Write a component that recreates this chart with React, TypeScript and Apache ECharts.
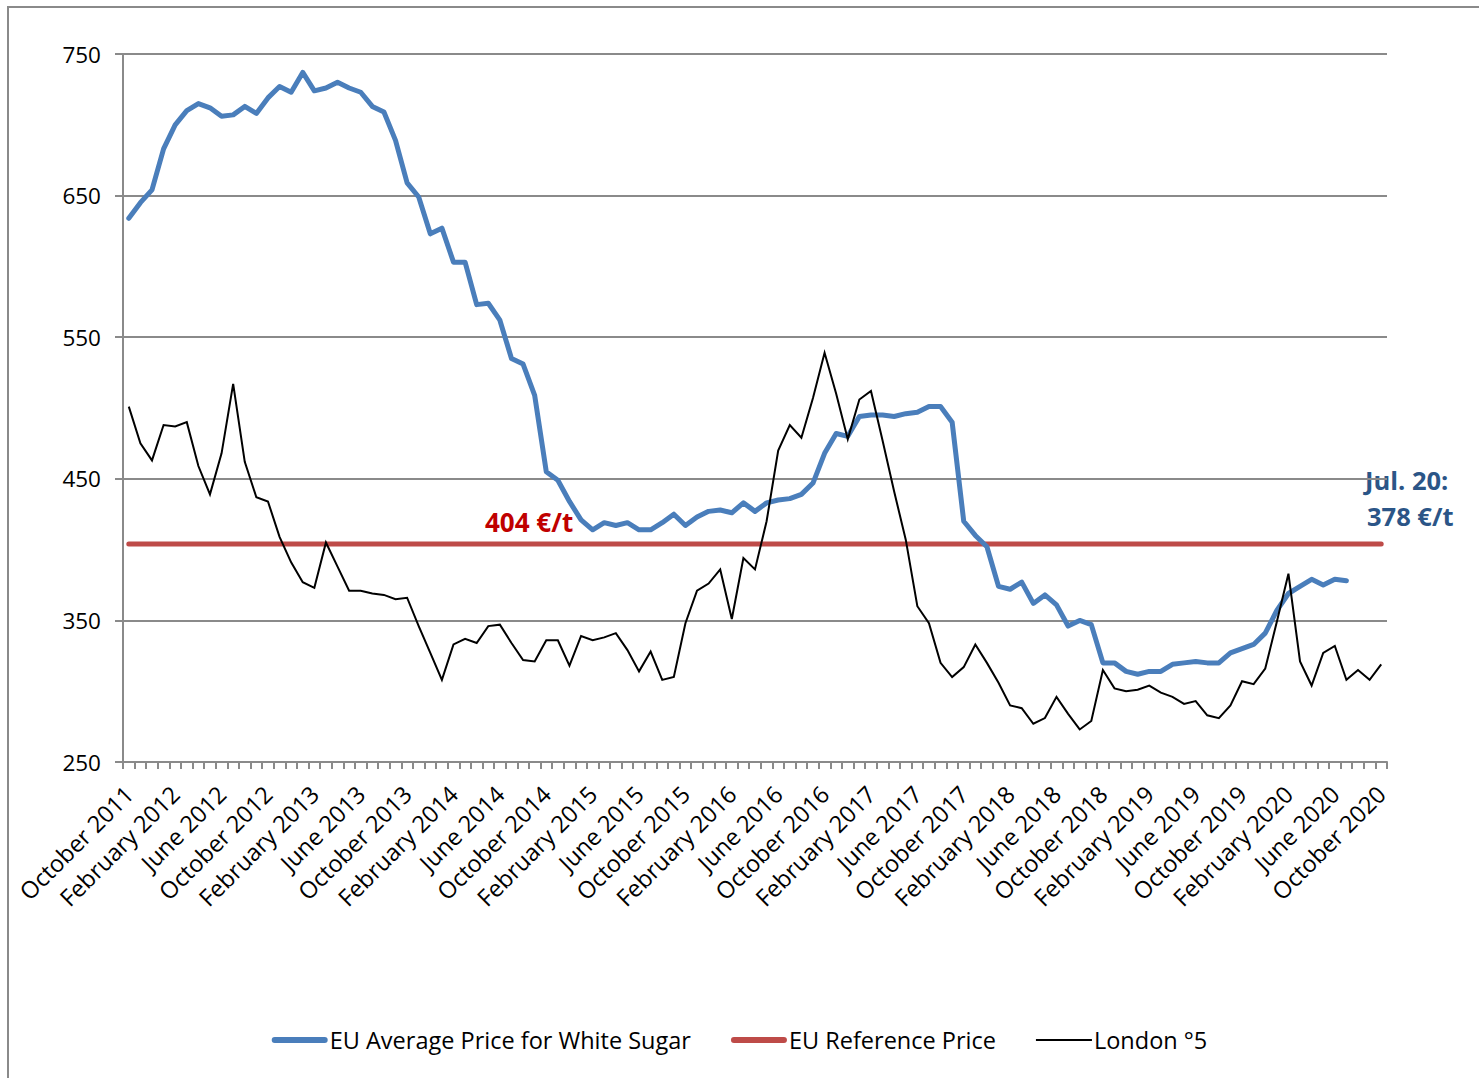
import React, { useEffect, useRef } from "react";
import * as echarts from "echarts";

// Monthly categories: October 2011 .. October 2020
const monthNames = ["January", "February", "March", "April", "May", "June", "July", "August", "September", "October", "November", "December"];
const startYear = 2011;
const startMonthIndex = 9; // October
const monthCount = 109;
const categories: string[] = [];
for (let i = 0; i < monthCount; i++) {
  const m = (startMonthIndex + i) % 12;
  const y = startYear + Math.floor((startMonthIndex + i) / 12);
  categories.push(`${monthNames[m]} ${y}`);
}

// EU Average Price for White Sugar (€/t), Oct 2011 .. Jul 2020
const euAveragePrice: (number | null)[] = [
  634, 645, 654, 683, 700, 710, 715, 712, 706, 707, 713, 708,
  719, 727, 723, 737, 724, 726, 730, 726, 723, 713, 709, 689,
  659, 649, 623, 627, 603, 603, 573, 574, 562, 535, 531, 509,
  455, 449, 434, 421, 414, 419, 417, 419, 414, 414, 419, 425,
  417, 423, 427, 428, 426, 433, 427, 433, 435, 436, 439, 447,
  468, 482, 480, 494, 495, 495, 494, 496, 497, 501, 501, 490,
  420, 410, 402, 374, 372, 377, 362, 368, 361, 346, 350, 347,
  320, 320, 314, 312, 314, 314, 319, 320, 321, 320, 320, 327,
  330, 333, 341, 357, 369, 374, 379, 375, 379, 378,
  null, null, null,
];

// EU Reference Price (€/t)
const referencePrice = 404;

// London No. 5 (€/t), Oct 2011 .. Oct 2020
const london5: number[] = [
  501, 475, 463, 488, 487, 490, 459, 439, 468, 517, 462, 437,
  434, 409, 391, 377, 373, 405, 388, 371, 371, 369, 368, 365,
  366, 346, 327, 308, 333, 337, 334, 346, 347, 334, 322, 321,
  336, 336, 318, 339, 336, 338, 341, 329, 314, 328, 308, 310,
  348, 371, 376, 386, 351, 394, 386, 420, 470, 488, 479, 507,
  539, 510, 478, 506, 512, 477, 441, 407, 360, 348, 320, 310,
  317, 333, 320, 306, 290, 288, 277, 281, 296, 284, 273, 279,
  315, 302, 300, 301, 304, 299, 296, 291, 293, 283, 281, 290,
  307, 305, 316, 349, 383, 321, 304, 327, 332, 308, 315, 308,
  319,
];

const yTicks = [250, 350, 450, 550, 650, 750];

const seriesNames = ["EU Average Price for White Sugar", "EU Reference Price", "London °5"];
const seriesColors = ["#4A7EBB", "#BE4B48", "#000000"];

const FONT = "Open Sans";

export default function App() {
  const ref = useRef<HTMLDivElement>(null);

  useEffect(() => {
    if (!ref.current) return;
    const chart = echarts.init(ref.current, undefined, { renderer: "svg" });
    const option: any = {
      animation: false,
      backgroundColor: "#ffffff",
      textStyle: { fontFamily: FONT },
      grid: { left: 123, right: 92, top: 54, bottom: 316, containLabel: false },
      legend: {
        left: "center",
        top: 1023,
        itemWidth: 56,
        itemHeight: 6,
        itemGap: 40,
        textStyle: { fontSize: 23.5, color: "#000", fontFamily: FONT, padding: [0, 0, 0, -3] },
        data: [
          { name: seriesNames[0], icon: "path://M3,0L53,0A3,3,0,0,1,53,6L3,6A3,3,0,0,1,3,0Z" },
          { name: seriesNames[1], icon: "path://M3,0L53,0A3,3,0,0,1,53,6L3,6A3,3,0,0,1,3,0Z" },
          { name: seriesNames[2], icon: "path://M0,0M56,6M0,2L56,2L56,4L0,4Z" },
        ],
      },
      xAxis: {
        type: "category",
        data: categories,
        boundaryGap: true,
        axisLine: { show: true, lineStyle: { color: "#8a8a8a", width: 2 } },
        axisTick: { show: true, interval: 0, length: 7, lineStyle: { color: "#8a8a8a", width: 2 } },
        axisLabel: {
          interval: 3,
          rotate: 45,
          margin: 28,
          fontSize: 23.5,
          color: "#000",
          fontFamily: FONT,
        },
        splitLine: { show: false },
      },
      yAxis: {
        type: "value",
        min: yTicks[0],
        max: yTicks[yTicks.length - 1],
        interval: 100,
        axisLine: { show: true, lineStyle: { color: "#8a8a8a", width: 2 } },
        axisTick: { show: true, length: 8, lineStyle: { color: "#8a8a8a", width: 2 } },
        axisLabel: { margin: 22, fontSize: 22.5, color: "#000", fontFamily: FONT },
        splitLine: { show: true, lineStyle: { color: "#8a8a8a", width: 2 } },
      },
      series: [
        {
          name: seriesNames[0],
          type: "line",
          data: euAveragePrice,
          symbol: "none",
          color: seriesColors[0],
          lineStyle: { width: 5, color: seriesColors[0], cap: "round", join: "round" },
          z: 4,
        },
        {
          name: seriesNames[1],
          type: "line",
          data: categories.map(() => referencePrice),
          symbol: "none",
          color: seriesColors[1],
          lineStyle: { width: 5, color: seriesColors[1], cap: "round" },
          z: 3,
        },
        {
          name: seriesNames[2],
          type: "line",
          data: london5,
          symbol: "none",
          color: seriesColors[2],
          lineStyle: { width: 2, color: seriesColors[2], join: "miter" },
          z: 5,
        },
      ],
      graphic: [
        {
          type: "rect",
          silent: true,
          z: -10,
          shape: { x: 8, y: 7, width: 1500, height: 1100 },
          style: { fill: "none", stroke: "#8a8a8a", lineWidth: 2 },
        },
        {
          type: "text",
          x: 485,
          y: 522,
          style: {
            text: "404 €/t",
            fill: "#C00000",
            fontFamily: FONT,
            fontWeight: "bold",
            fontSize: 26,
            verticalAlign: "middle",
          },
        },
        {
          type: "text",
          x: 1365,
          y: 480,
          style: {
            text: "Jul. 20:",
            fill: "#2B5587",
            fontFamily: FONT,
            fontWeight: "bold",
            fontSize: 25.5,
            verticalAlign: "middle",
          },
        },
        {
          type: "text",
          x: 1367,
          y: 516,
          style: {
            text: "378 €/t",
            fill: "#2B5587",
            fontFamily: FONT,
            fontWeight: "bold",
            fontSize: 25.5,
            verticalAlign: "middle",
          },
        },
      ],
    };
    chart.setOption(option);
    return () => chart.dispose();
  }, []);

  return (
    <div
      ref={ref}
      style={{ position: "absolute", left: 0, top: 0, width: 1479, height: 1078, background: "#fff" }}
    />
  );
}
